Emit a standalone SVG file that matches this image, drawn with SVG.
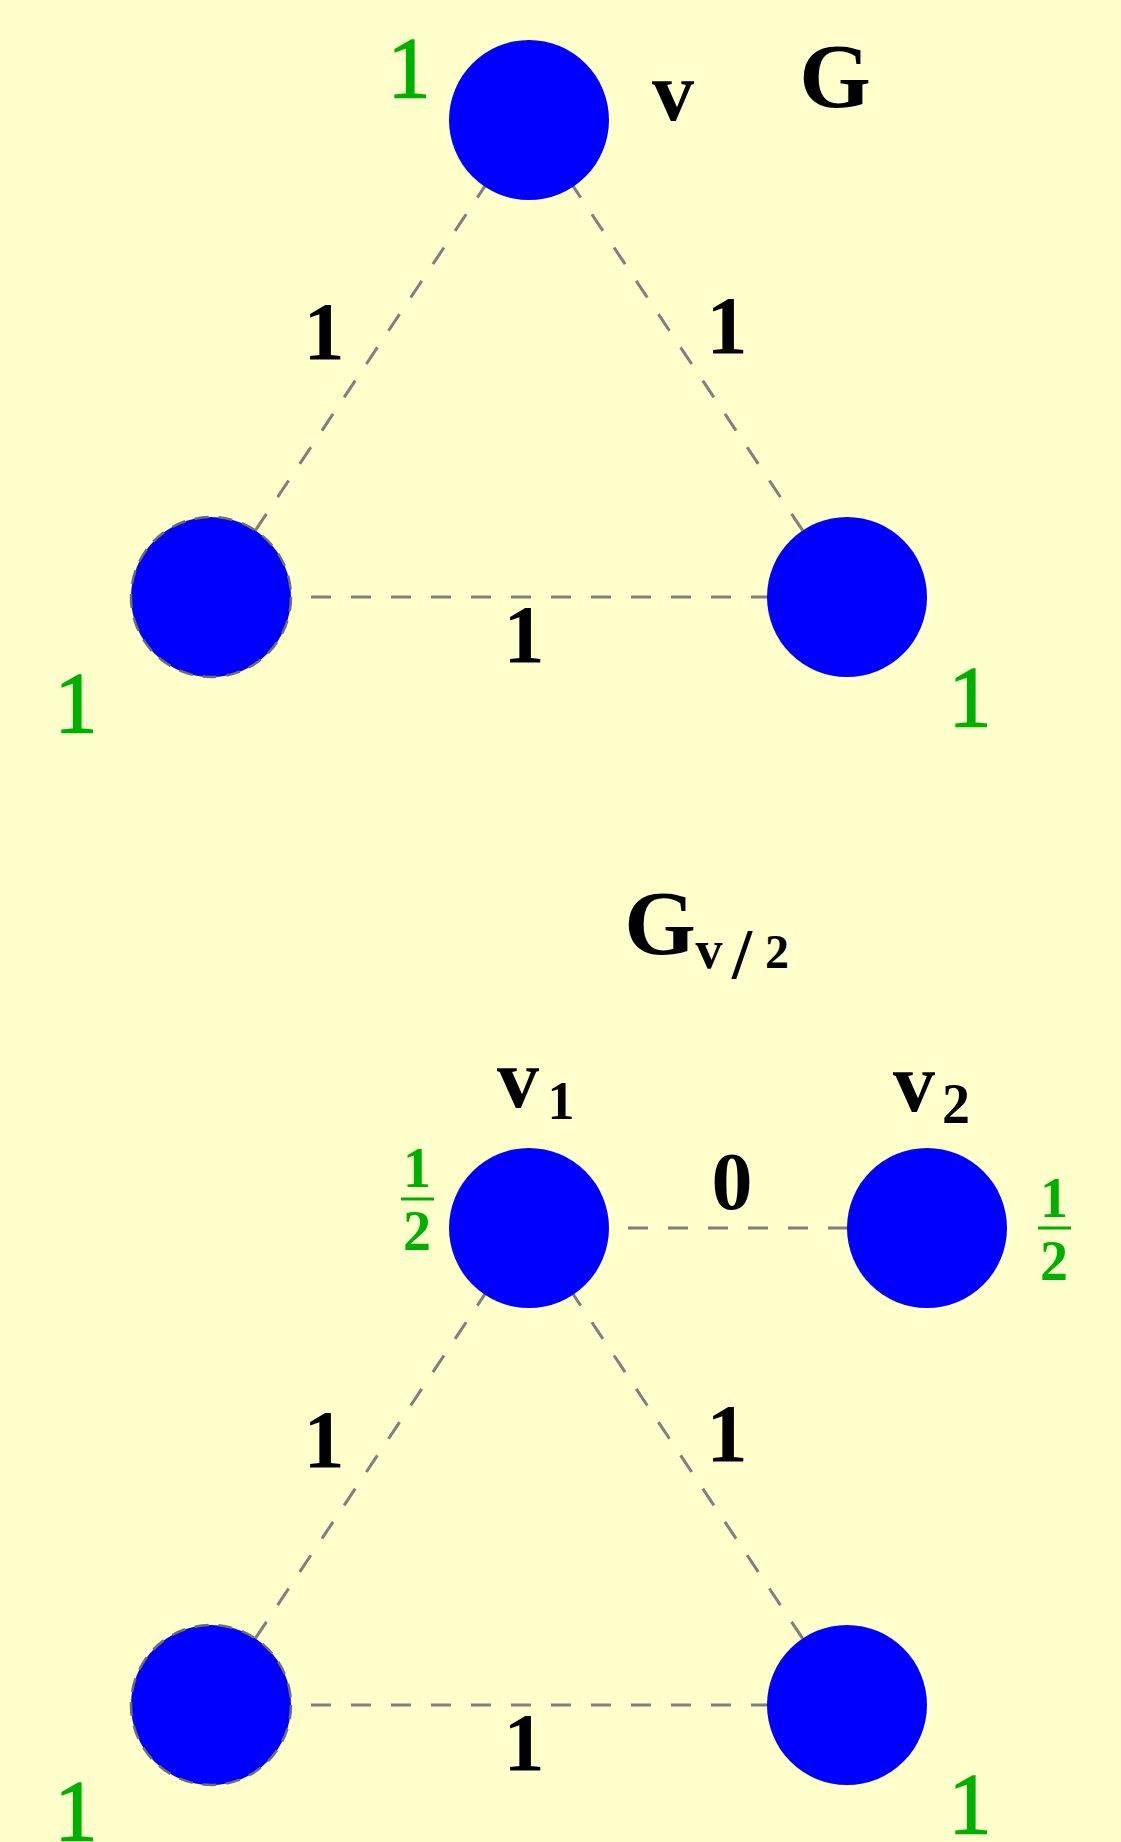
<svg xmlns="http://www.w3.org/2000/svg" width="1121" height="1842" viewBox="0 0 1121 1842">
<style>
.edge{stroke:#7f7f7f;stroke-width:3;stroke-dasharray:20 20;fill:none}
.node{fill:#0000ff}
.dashed{stroke:#6e6e6e;stroke-width:2.5;stroke-dasharray:14 10}
.w{font-family:"Liberation Serif",serif;fill:#00b000;stroke:#00b000;stroke-width:1.5;font-size:86px;text-anchor:middle}
.e{font-family:"Liberation Serif",serif;fill:#000;font-weight:bold;font-size:82px;text-anchor:middle}
.lab{font-family:"Liberation Serif",serif;fill:#000;font-weight:bold;text-anchor:middle}
.fr{font-family:"Liberation Serif",serif;fill:#00b000;font-weight:bold;font-size:56px;text-anchor:middle}
</style>
<rect x="0" y="0" width="1121" height="1842" fill="#ffffcc"/>
<g id="connectors">
<line class="edge" x1="211" y1="597" x2="529" y2="120"/>
<line class="edge" x1="847" y1="597" x2="529" y2="120"/>
<line class="edge" x1="311" y1="597" x2="847" y2="597"/>
<line class="edge" x1="211" y1="1705" x2="529" y2="1228"/>
<line class="edge" x1="847" y1="1705" x2="529" y2="1228"/>
<line class="edge" x1="311" y1="1705" x2="847" y2="1705"/>
<line class="edge" x1="628" y1="1228" x2="927" y2="1228"/>
</g>
<g id="edge-labels">
<text class="e" x="324" y="359">1</text>
<text class="e" x="727" y="353">1</text>
<text class="e" x="524" y="662">1</text>
<text class="e" x="324" y="1467">1</text>
<text class="e" x="727" y="1461">1</text>
<text class="e" x="524" y="1770">1</text>
<text class="e" x="732" y="1209">0</text>
</g>
<text class="lab" x="835" y="107" font-size="92">G</text>
<g id="title-gv2">
<text class="lab" x="660" y="954" font-size="92">G</text>
<text class="lab" x="709" y="968" font-size="54">v</text>
<text class="lab" x="742" y="978" font-size="72" font-weight="normal">/</text>
<text class="lab" x="777" y="968" font-size="48">2</text>
</g>
<g id="node-v">
<circle class="node" cx="529" cy="120" r="80"/>
<text class="w" x="409" y="97">1</text>
<text class="lab" x="673" y="120" font-size="84">v</text>
</g>
<g id="node-bl-top">
<circle class="node dashed" cx="211" cy="597" r="80"/>
<text class="w" x="76" y="732">1</text>
</g>
<g id="node-br-top">
<circle class="node" cx="847" cy="597" r="80"/>
<text class="w" x="970" y="726">1</text>
</g>
<g id="node-v1">
<circle class="node" cx="529" cy="1228" r="80"/>
<text class="lab" x="518" y="1107" font-size="84">v</text>
<text class="lab" x="561" y="1119" font-size="54" font-weight="normal">1</text>
<text class="fr" x="417" y="1187">1</text>
<rect x="401" y="1197.5" width="33" height="3" fill="#00b000"/>
<text class="fr" x="417" y="1250">2</text>
</g>
<g id="node-v2">
<circle class="node" cx="927" cy="1228" r="80"/>
<text class="lab" x="914" y="1111" font-size="84">v</text>
<text class="lab" x="956" y="1123" font-size="56">2</text>
<text class="fr" x="1054" y="1217">1</text>
<rect x="1038" y="1226.5" width="33" height="3" fill="#00b000"/>
<text class="fr" x="1054" y="1280">2</text>
</g>
<g id="node-bl-bottom">
<circle class="node dashed" cx="211" cy="1705" r="80"/>
<text class="w" x="76" y="1840">1</text>
</g>
<g id="node-br-bottom">
<circle class="node" cx="847" cy="1705" r="80"/>
<text class="w" x="970" y="1833">1</text>
</g>
</svg>
